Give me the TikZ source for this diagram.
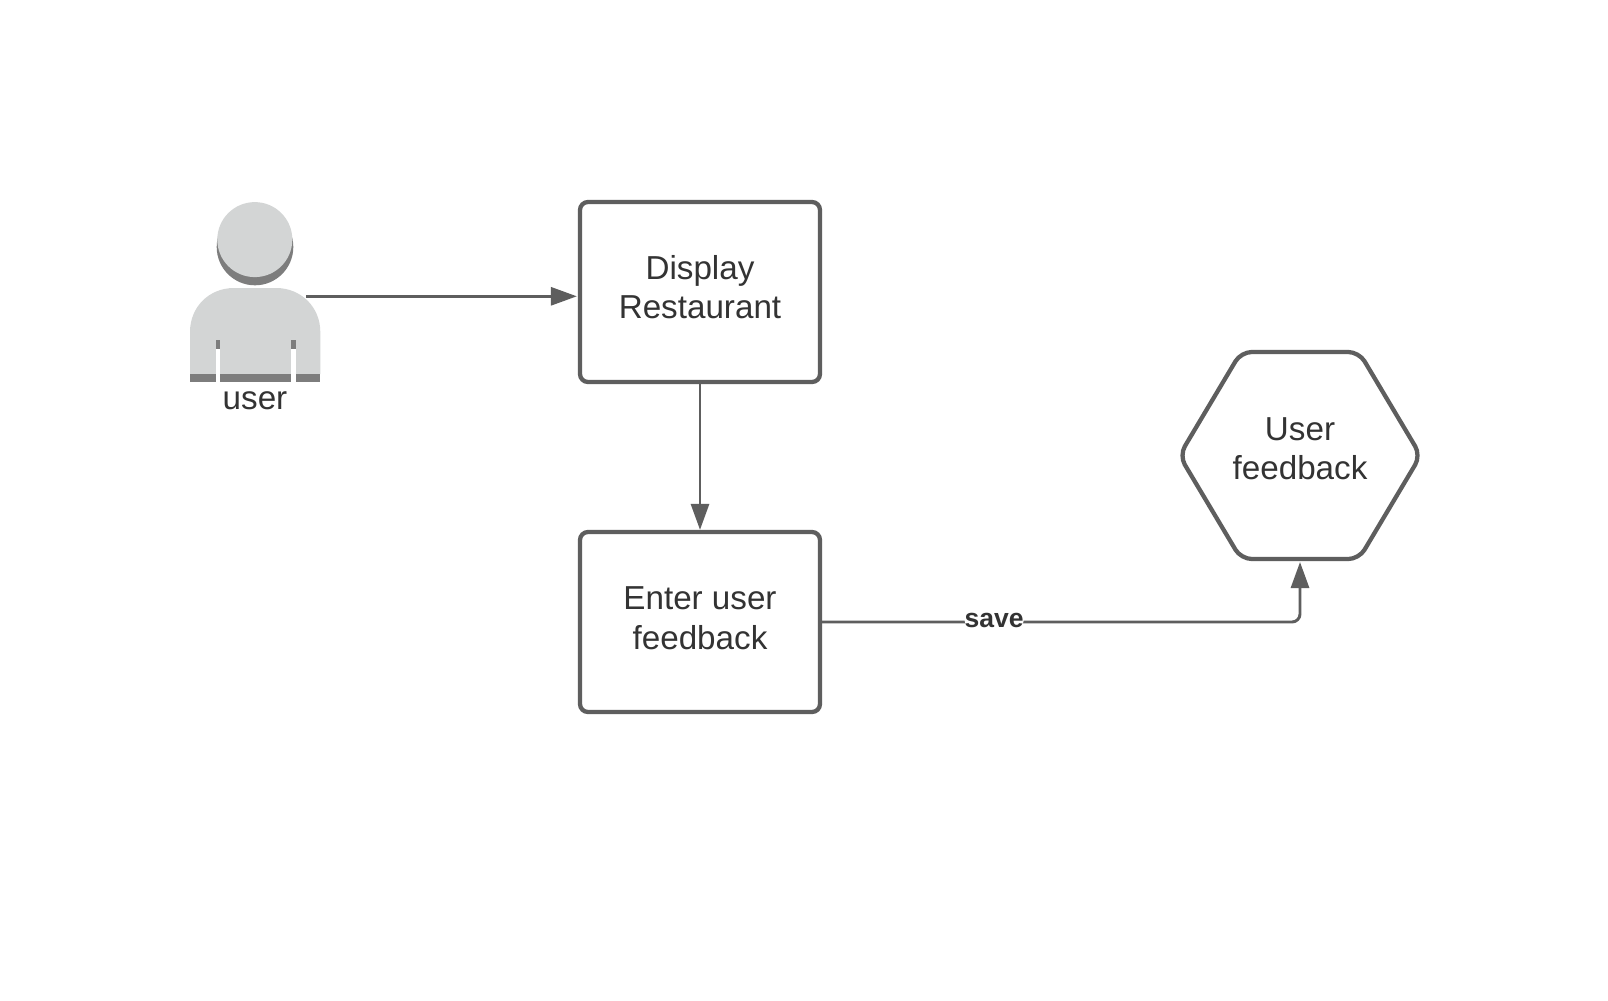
\documentclass[tikz,border=0pt]{standalone}
\usepackage{fontspec}
\setmainfont{Liberation Sans}
\usetikzlibrary{arrows.meta,calc}
\definecolor{linegray}{HTML}{5E5E5E}
\definecolor{textgray}{HTML}{333333}
\definecolor{bodylight}{HTML}{D3D5D5}
\definecolor{bodydark}{HTML}{7D7D7D}
\newcommand{\liftby}[1]{\rule[-#1]{0pt}{0pt}}
\tikzset{
  txt/.style={text=textgray,font=\fontsize{24.9}{29.6}\selectfont,align=center},
  boxnode/.style={txt,draw=linegray,line width=3.2pt,rounded corners=6pt,minimum width=180pt,minimum height=135pt,inner sep=0pt},
  hexnode/.style={txt,minimum width=181pt,minimum height=155.25pt,inner sep=0pt,outer sep=0pt},
  conn/.style={draw=linegray,line width=2.2pt,-{Triangle[length=19.5pt,width=13.5pt]}},
  savelabel/.style={fill=white,text=textgray,font=\fontsize{19.9}{24}\selectfont\bfseries,inner sep=0pt}
}
\begin{document}
\begin{tikzpicture}[x=0.75pt,y=-0.75pt]
\useasboundingbox (0,0) rectangle (1608,1000);
\fill[white] (0,0) rectangle (1608,1000);
% person
\fill[bodydark] (255,247) circle[radius=38.3];
\fill[bodylight] (254.8,239.6) circle[radius=37.5];
\fill[bodylight] (190,374) -- (190,332) .. controls (190,307) and (209,288) .. (234,288)
  -- (276,288) .. controls (301,288) and (320.3,307) .. (320.3,332) -- (320.3,374) -- cycle;
\fill[bodydark] (190,374) rectangle (320.3,381.7);
\fill[bodydark] (215.7,340.3) rectangle (220.3,348.7);
\fill[bodydark] (291,340.3) rectangle (295.7,348.7);
\fill[white] (215.7,348.7) rectangle (220.3,381.9);
\fill[white] (291,348.7) rectangle (295.7,381.9);
\node[txt,anchor=base,inner sep=0pt] (user) at (255,409) {user};
\coordinate (userout) at (306,296.3);
% boxes
\node[boxnode] (display) at (700,292) {Display\\Restaurant\liftby{7.5pt}};
\node[boxnode] (enter) at (700,622) {Enter user\\feedback\liftby{5.7pt}};
% hexagon
\node[hexnode] (hex) at (1300,455.5) {User\\feedback\liftby{10.5pt}};
\draw[draw=linegray,line width=3.2pt,rounded corners=8pt]
  ($(hex.west)$) -- ($(hex.north)+(-59,0)$) -- ($(hex.north)+(59,0)$) -- (hex.east)
  -- ($(hex.south)+(59,0)$) -- ($(hex.south)+(-59,0)$) -- cycle;
% connectors
\draw[conn,shorten >=0.75pt] (userout) -- (userout -| display.west);
\draw[conn] (display.south) -- (enter.north);
\draw[conn,rounded corners=6pt] (enter.east) -| node[savelabel,pos=0.18,yshift=1pt] (save) {save} ($(hex.south)+(0,3)$);
\end{tikzpicture}
\end{document}
